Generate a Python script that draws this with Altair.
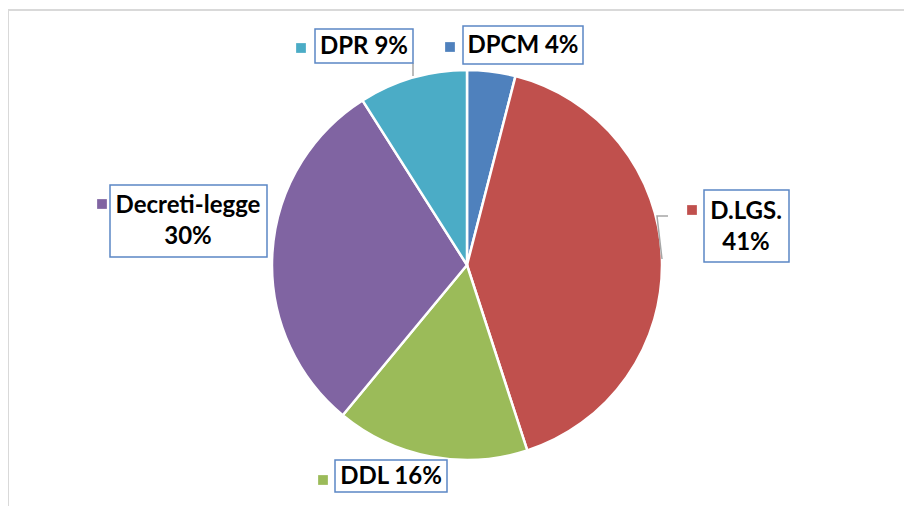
import altair as alt
import pandas as pd

# ---- data ----
categories = ["DPCM", "D.LGS.", "DDL", "Decreti-legge", "DPR"]
values = [4, 41, 16, 30, 9]
label_texts = ["DPCM 4%", "D.LGS.\n41%", "DDL 16%", "Decreti-legge\n30%", "DPR 9%"]
colors = ["#4F81BD", "#C0504D", "#9BBB59", "#8064A2", "#4BACC6"]

# ---- layout (annotation positions in view pixels, not data) ----
OX, OY = 8, 10  # view origin on the page
box_x1 = [463, 704, 335, 110, 315]
box_x2 = [583, 789, 447, 267, 413]
box_y1 = [26, 190, 460, 185, 29]
box_y2 = [64, 262, 492, 257, 63]
text_x = [523, 746, 391, 188, 364]
text_y = [46, 212, 477, 206, 47]  # centre of first line
sq_x = [450, 692, 323, 102, 301]
sq_y = [47, 210, 480, 204, 48]

W, H = 896, 496
CX, CY, R = 467 - OX, 265 - OY, 195

pie_df = pd.DataFrame({"cat": categories, "value": values, "idx": list(range(len(values)))})

lab_df = pd.DataFrame({
    "cat": categories,
    "text": label_texts,
    "bx1": [v - OX for v in box_x1], "bx2": [v - OX for v in box_x2],
    "by1": [v - OY for v in box_y1], "by2": [v - OY for v in box_y2],
    "tx": [v - OX for v in text_x], "ty": [v - OY for v in text_y],
    "sx": [v - OX for v in sq_x], "sy": [v - OY for v in sq_y],
})

color_scale = alt.Scale(domain=categories, range=colors)

pie = alt.Chart(pie_df).mark_arc(stroke="white", strokeWidth=2.5, outerRadius=R).encode(
    theta=alt.Theta("value:Q", stack=True),
    color=alt.Color("cat:N", scale=color_scale, legend=None),
    order=alt.Order("idx:Q"),
    x=alt.value(CX),
    y=alt.value(CY),
)

boxes = alt.Chart(lab_df).mark_rect(fill="white", stroke="#5B87C5", strokeWidth=1.5).encode(
    x=alt.X("bx1:Q", scale=None), x2="bx2:Q",
    y=alt.Y("by1:Q", scale=None), y2="by2:Q",
)

texts = alt.Chart(lab_df).mark_text(
    font="Lato", fontSize=24, fontWeight="bold", color="black",
    align="center", baseline="middle", lineBreak="\n", lineHeight=31,
).encode(
    x=alt.X("tx:Q", scale=None), y=alt.Y("ty:Q", scale=None), text="text:N",
)

squares = alt.Chart(lab_df).mark_square(size=95, opacity=1).encode(
    x=alt.X("sx:Q", scale=None), y=alt.Y("sy:Q", scale=None),
    color=alt.Color("cat:N", scale=color_scale, legend=None),
)

# leader lines
lead_df = pd.DataFrame({
    "g": ["a", "a", "a", "b", "b"],
    "o": [0, 1, 2, 0, 1],
    "x": [668 - OX, 657 - OX, 662 - OX, 413 - OX, 413 - OX],
    "y": [216 - OY, 216 - OY, 259 - OY, 63 - OY, 76 - OY],
})
leaders = alt.Chart(lead_df).mark_line(color="#A6A6A6", strokeWidth=1.5).encode(
    x=alt.X("x:Q", scale=None), y=alt.Y("y:Q", scale=None),
    detail="g:N", order="o:Q",
)

# outer chart border (top and left edges visible)
border_df = pd.DataFrame({"x1": [0, 0], "x2": [W, 0], "y1": [0, 0], "y2": [0, H]})
border = alt.Chart(border_df).mark_rule(color="#D9D9D9", strokeWidth=2).encode(
    x=alt.X("x1:Q", scale=None), x2="x2:Q",
    y=alt.Y("y1:Q", scale=None), y2="y2:Q",
)

chart = alt.layer(border, pie, leaders, boxes, texts, squares).properties(
    width=W, height=H,
    autosize=alt.AutoSizeParams(type="none"),
    padding={"left": 0, "top": 2, "right": 0, "bottom": 0},
).configure_view(stroke=None).configure(background="white")

chart.save("out.html", embed_options={"renderer": "svg", "actions": False})
